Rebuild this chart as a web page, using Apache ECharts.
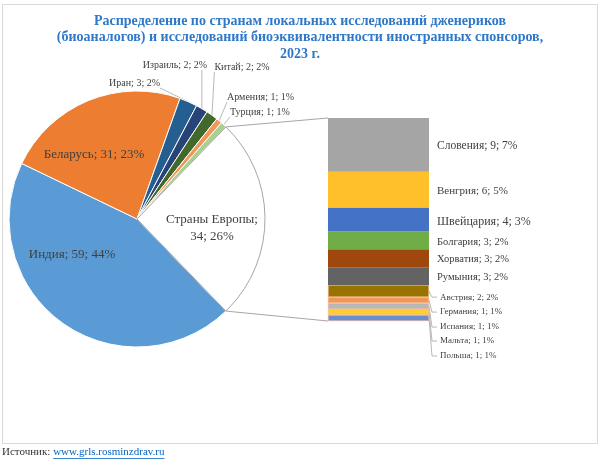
<!DOCTYPE html>
<html>
<head>
<meta charset="utf-8">
<script src="https://cdn.jsdelivr.net/npm/echarts@6/dist/echarts.min.js"></script>
<style>
html,body{margin:0;padding:0;background:#fff;}
#chart{width:600px;height:459px;}
</style>
</head>
<body>
<div id="chart"></div>
<script>
// ---- data ----
const titleText = 'Распределение по странам локальных исследований дженериков\n(биоаналогов) и исследований биоэквивалентности иностранных спонсоров,\n2023 г.';
const pieNames = ['Индия', 'Беларусь', 'Иран', 'Израиль', 'Китай', 'Армения', 'Турция', 'Страны Европы'];
const pieValues = [59, 31, 3, 2, 2, 1, 1, 34];
const euNames = ['Словения', 'Венгрия', 'Швейцария', 'Болгария', 'Хорватия', 'Румыния', 'Австрия', 'Германия', 'Испания', 'Мальта', 'Польша'];
const euValues = [9, 6, 4, 3, 3, 3, 2, 1, 1, 1, 1];
const sourceLabel = 'Источник: ';
const sourceLink = 'www.grls.rosminzdrav.ru';

// ---- styles / layout ----
const FONT = '"Liberation Serif", "Times New Roman", serif';
const TXT = '#404040';
const pieColors = ['#5B9BD5', '#ED7D31', '#255E91', '#264478', '#43682B', '#F1975A', '#A9D18E', '#FFFFFF'];
const euColors = ['#A5A5A5', '#FFC02A', '#4472C4', '#70AD47', '#9E480E', '#636363', '#997300', '#F1975A', '#B7B7B7', '#FFCD33', '#698ED0'];
const euFont = [11.5, 11, 12, 10.5, 10.5, 10.5, 9, 9, 9, 9, 9];
const euLabelDy = [1, 1, 2, 2, 1, 1, 6, 12, 21, 29, 38]; // label shift (small ones get leader lines)
const pieCenter = [137, 219], pieR = 128;
// label anchor positions for pie labels: [x, y, align]
const pieLabelPos = [[72, 255, 'center'], [94, 155, 'center'], [160, 83, 'right'], [175, 65, 'center'],
  [242, 67, 'center'], [227, 97, 'left'], [230, 112, 'left'], [212, 228, 'center']];
const barGrid = {left: 328, top: 118, width: 101, height: 203};
const SMALL_FROM = 6;

const total = pieValues.reduce((a, b) => a + b, 0);
const euTotal = euValues.reduce((a, b) => a + b, 0);
const pct = v => Math.round(v / total * 100);
const euIndex = pieNames.length - 1;
const euAngle = pieValues[euIndex] / total * 360;
const startAngle = 360 - euAngle / 2;

const midAngles = [];
(function () {
  let a = startAngle;
  pieValues.forEach(v => { const s = v / total * 360; midAngles.push(a - s / 2); a -= s; });
})();

const chart = echarts.init(document.getElementById('chart'));

const isInside = i => i === 0 || i === 1 || i === euIndex;
const pieData = pieNames.map((n, i) => ({
  name: n, value: pieValues[i],
  itemStyle: {color: pieColors[i], borderColor: i === euIndex ? '#A6A6A6' : '#FFFFFF', borderWidth: 1},
  label: {
    position: isInside(i) ? 'inside' : 'outside',
    fontSize: isInside(i) ? 13 : 10,
    lineHeight: isInside(i) ? 17 : 12,
    formatter: i === euIndex ? n + ';\n' + pieValues[i] + '; ' + pct(pieValues[i]) + '%' : n + '; ' + pieValues[i] + '; ' + pct(pieValues[i]) + '%'
  },
  labelLine: {show: !isInside(i)}
}));

function clamp(v, a, b) { return Math.max(a, Math.min(b, v)); }

function pieLabelLayout(p) {
  const i = p.dataIndex;
  const pos = pieLabelPos[i];
  const w = p.labelRect.width, h = p.labelRect.height;
  const res = {x: pos[0], y: pos[1], align: pos[2], verticalAlign: 'middle'};
  if (!isInside(i)) {
    const x0 = pos[2] === 'right' ? pos[0] - w : pos[2] === 'left' ? pos[0] : pos[0] - w / 2;
    const y0 = pos[1] - h / 2;
    const rad = midAngles[i] * Math.PI / 180;
    const ax = pieCenter[0] + pieR * Math.cos(rad);
    const ay = pieCenter[1] - pieR * Math.sin(rad);
    res.labelLinePoints = [[ax, ay], [clamp(ax, x0, x0 + w), clamp(ay, y0 + 1, y0 + h - 1)]];
  }
  return res;
}

// stacked bar series, bottom first
const barSeries = [];
for (let k = euNames.length - 1; k >= 0; k--) {
  const small = k >= SMALL_FROM;
  barSeries.push({
    type: 'bar', name: euNames[k], stack: 'eu',
    barWidth: '100%', data: [euValues[k]],
    itemStyle: {color: euColors[k], borderColor: small ? '#F4B183' : euColors[k], borderWidth: small ? 0.6 : 0},
    label: {
      show: true, position: 'right', distance: small ? 11 : 8,
      fontFamily: FONT, fontSize: euFont[k], color: TXT,
      formatter: euNames[k] + '; ' + euValues[k] + '; ' + pct(euValues[k]) + '%'
    },
    labelLayout: {dy: euLabelDy[k]},
    emphasis: {disabled: true}
  });
}

const eTop = (euAngle / 2) * Math.PI / 180;
const p1 = [pieCenter[0] + pieR * Math.cos(eTop), pieCenter[1] - pieR * Math.sin(eTop)];
const p2 = [pieCenter[0] + pieR * Math.cos(eTop), pieCenter[1] + pieR * Math.sin(eTop)];

const mc = document.createElement('canvas').getContext('2d');
mc.font = '11px ' + FONT;
const srcW = mc.measureText(sourceLabel).width;
const linkW = mc.measureText(sourceLink).width;

chart.setOption({
  animation: false,
  backgroundColor: '#FFFFFF',
  title: {
    text: titleText, left: 'center', top: 8,
    textStyle: {fontFamily: FONT, fontSize: 14, fontWeight: 'bold', color: '#2F78C8', lineHeight: 16.5}
  },
  grid: [{left: barGrid.left, top: barGrid.top, width: barGrid.width, height: barGrid.height}],
  xAxis: [{type: 'category', data: ['Страны Европы'], show: false}],
  yAxis: [{type: 'value', min: 0, max: euTotal, show: false}],
  series: [{
    type: 'pie', center: pieCenter, radius: pieR, startAngle: startAngle, clockwise: true,
    avoidLabelOverlap: false, minAngle: 0,
    label: {show: true, fontFamily: FONT, color: TXT},
    labelLine: {lineStyle: {color: '#A6A6A6', width: 0.8}},
    labelLayout: pieLabelLayout,
    emphasis: {disabled: true},
    data: pieData
  }].concat(barSeries)
});

// leader lines for small bar segments, derived from the axis scale
const graphics = [
  {type: 'rect', shape: {x: 2.5, y: 4.5, width: 595, height: 439}, style: {fill: null, stroke: '#D9D9D9', lineWidth: 1}, silent: true, z: -1},
  {type: 'line', shape: {x1: p1[0], y1: p1[1], x2: barGrid.left, y2: barGrid.top}, style: {stroke: '#A6A6A6', lineWidth: 1}, silent: true},
  {type: 'line', shape: {x1: p2[0], y1: p2[1], x2: barGrid.left, y2: barGrid.top + barGrid.height}, style: {stroke: '#A6A6A6', lineWidth: 1}, silent: true},
  {type: 'text', left: 2, top: 447, style: {text: sourceLabel, font: '11px ' + FONT, fill: '#333333'}, silent: true},
  {type: 'text', left: 2 + srcW, top: 447, style: {text: sourceLink, font: '11px ' + FONT, fill: '#0563C1'}, silent: true},
  {type: 'line', shape: {x1: 2 + srcW, y1: 458.5, x2: 2 + srcW + linkW, y2: 458.5}, style: {stroke: '#0563C1', lineWidth: 0.8}, silent: true}
];
let cum = 0;
const barRight = chart.convertToPixel({xAxisIndex: 0}, 0) + barGrid.width / 2;
for (let k = euNames.length - 1; k >= 0; k--) {
  const lo = cum; cum += euValues[k];
  if (k < SMALL_FROM) continue;
  const mid = chart.convertToPixel({yAxisIndex: 0}, (lo + cum) / 2);
  const ly = mid + euLabelDy[k];
  graphics.push({type: 'polyline', shape: {points: [[barRight, mid], [barRight + 3, ly], [barRight + 8, ly]]},
    style: {stroke: '#A6A6A6', lineWidth: 0.8, fill: null}, silent: true});
}
chart.setOption({graphic: graphics});
</script>
</body>
</html>
